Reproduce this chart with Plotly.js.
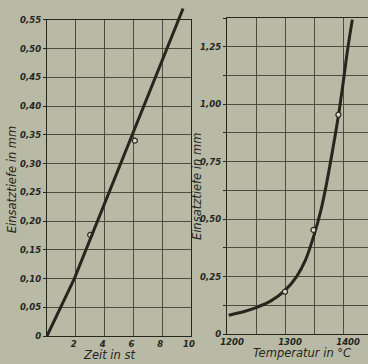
<!DOCTYPE html>
<html>
<head>
<meta charset="utf-8">
<script src="https://cdn.plot.ly/plotly-3.0.1.min.js"></script>
<style>html,body{margin:0;padding:0;background:#b8baa5;}#chart{width:368px;height:364px;}</style>
</head>
<body>
<div id="chart"></div>
<script>
// Left chart: depth vs time
const timeLine = [0, 1.9, 5.95, 9.45];
const depthLine = [0, 0.10, 0.352, 0.57];
const timePts = [3.0, 6.1];
const depthPts = [0.176, 0.34];
const timeTicks = [0, 2, 4, 6, 8, 10];
const timeTickText = ["", "2", "4", "6", "8", "10"];
const depthTicks = [0, 0.05, 0.10, 0.15, 0.20, 0.25, 0.30, 0.35, 0.40, 0.45, 0.50, 0.55];
const depthTickText = ["0", "0,05", "0,10", "0,15", "0,20", "0,25", "0,30", "0,35", "0,40", "0,45", "0,50", "0,55"];

// Right chart: depth vs temperature
const tempLine = [1203, 1230, 1250, 1275, 1300, 1320, 1335, 1350, 1362, 1372, 1382, 1392, 1400, 1408, 1416];
const depthTLine = [0.082, 0.098, 0.115, 0.143, 0.19, 0.25, 0.32, 0.43, 0.54, 0.66, 0.80, 0.95, 1.09, 1.24, 1.368];
const tempPts = [1300, 1349, 1392];
const depthTPts = [0.184, 0.453, 0.954];
const tempTicks = [1200, 1250, 1300, 1350, 1400];
const tempTickText = ["1200", "", "1300", "", "1400"];
const depthTTicks = [0, 0.125, 0.25, 0.375, 0.5, 0.625, 0.75, 0.875, 1.0, 1.125, 1.25, 1.375];
const depthTTickText = ["0", "", "0,25", "", "0,50", "", "0,75", "", "1,00", "", "1,25", ""];

const ink = "#26261f";
const grid = "#4c4d42";
const paper = "#b8baa5";
const tickFont = {family: "DejaVu Sans", size: 8.5, color: ink, style: "italic", weight: 700};
const titleFont = {family: "DejaVu Sans", size: 11.5, color: ink, style: "italic"};

const leftYTop = 0.9451, leftYBot = 0.0769;
const perUnit = (leftYTop - leftYBot) / 0.55;

const traces = [
  {x: timeLine, y: depthLine, xaxis: "x3", yaxis: "y3", mode: "lines",
   line: {color: ink, width: 3}, hoverinfo: "skip"},
  {x: timePts, y: depthPts, xaxis: "x", yaxis: "y", mode: "markers", cliponaxis: false,
   marker: {symbol: "circle", size: 5, color: "#d8d9c8", line: {color: ink, width: 1.2}}},
  {x: tempLine, y: depthTLine, xaxis: "x2", yaxis: "y2", mode: "lines",
   line: {color: ink, width: 3, shape: "spline", smoothing: 1}, hoverinfo: "skip"},
  {x: tempPts, y: depthTPts, xaxis: "x2", yaxis: "y2", mode: "markers", cliponaxis: false,
   marker: {symbol: "circle", size: 5, color: "#d8d9c8", line: {color: ink, width: 1.2}}}
];

const layout = {
  width: 368, height: 364,
  margin: {l: 0, r: 0, t: 0, b: 0},
  paper_bgcolor: paper, plot_bgcolor: "rgba(0,0,0,0)",
  showlegend: false,
  xaxis: {domain: [0.1277, 0.519], range: [0, 10], tickvals: timeTicks, ticktext: timeTickText,
          showgrid: true, gridcolor: grid, gridwidth: 1, zeroline: false,
          showline: true, linecolor: ink, linewidth: 1.2, mirror: true,
          ticks: "", tickfont: tickFont, anchor: "y", ticklabelshift: -2},
  yaxis: {domain: [leftYBot, leftYTop], range: [0, 0.55], tickvals: depthTicks, ticktext: depthTickText,
          showgrid: true, gridcolor: grid, gridwidth: 1, zeroline: false,
          showline: true, linecolor: ink, linewidth: 1.2, mirror: true,
          ticks: "outside", ticklen: 3, tickcolor: ink, tickfont: tickFont, anchor: "x"},
  xaxis3: {domain: [0.1277, 0.519], range: [0, 10], visible: false, showgrid: false, anchor: "y3"},
  yaxis3: {domain: [leftYBot, leftYBot + 0.58 * perUnit], range: [0, 0.58], visible: false, showgrid: false, anchor: "x3"},
  xaxis2: {domain: [0.6168, 1.0], range: [1200, 1443], tickvals: tempTicks, ticktext: tempTickText,
           showgrid: true, gridcolor: grid, gridwidth: 1, zeroline: false,
           showline: true, linecolor: ink, linewidth: 1.2, mirror: true,
           ticks: "", tickfont: tickFont, anchor: "y2", ticklabelshift: 5},
  yaxis2: {domain: [0.0824, 0.9505], range: [0, 1.375], tickvals: depthTTicks, ticktext: depthTTickText,
           showgrid: true, gridcolor: grid, gridwidth: 1, zeroline: false,
           showline: true, linecolor: ink, linewidth: 1.2, mirror: true,
           ticks: "outside", ticklen: 3, tickcolor: ink, tickfont: tickFont, anchor: "x2"},
  annotations: [
    {text: "Einsatztiefe in mm", xref: "paper", yref: "paper", x: 12/368, y: 0.505,
     textangle: -90, showarrow: false, font: titleFont, xanchor: "center", yanchor: "middle"},
    {text: "Einsatztiefe in mm", xref: "paper", yref: "paper", x: 197/368, y: 0.486,
     textangle: -90, showarrow: false, font: titleFont, xanchor: "center", yanchor: "middle"},
    {text: "Zeit in st", xref: "paper", yref: "paper", x: 109/368, y: 9/364,
     showarrow: false, font: titleFont, xanchor: "center", yanchor: "middle"},
    {text: "Temperatur in °C", xref: "paper", yref: "paper", x: 302/368, y: 11/364,
     showarrow: false, font: titleFont, xanchor: "center", yanchor: "middle"}
  ]
};

Plotly.newPlot("chart", traces, layout, {staticPlot: true, displayModeBar: false});
</script>
</body>
</html>
